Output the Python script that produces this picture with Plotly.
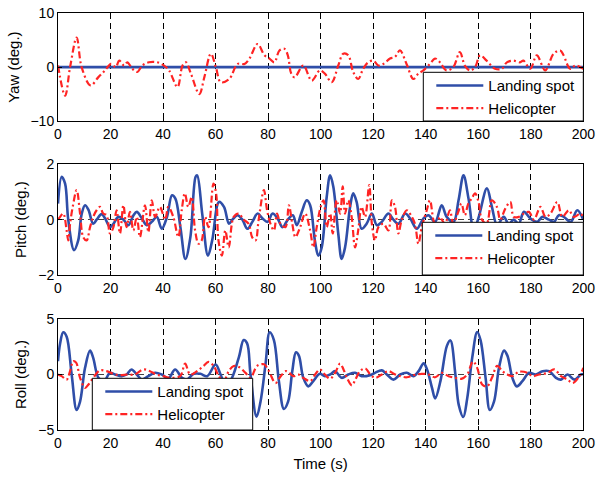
import plotly.graph_objects as go

# ---------------- data (time in s, angles in deg.) ----------------
time_ticks = list(range(0, 201, 20))

# Yaw
yaw_ship_t = [0, 200]
yaw_ship = [0, 0]
yaw_heli_t = [0, 2.7, 4.6, 7.1, 9.0, 12.4, 15.3, 17.9, 20.2, 22.0, 23.3, 25.2, 26.4, 28.3,
              30.2, 32.1, 34.6, 37.8, 40.4, 42.3, 45.5, 47.4, 48.7, 50.6, 53.8, 55.7, 58.2,
              60.1, 62.0, 65.2, 68.4, 71.0, 72.9, 76.0, 78.6, 80.5, 82.4, 84.3, 86.2, 87.5,
              88.8, 90.1, 93.4, 96.6, 99.7, 101.6, 104.2, 106.7, 108.6, 110.5, 112.4, 114.3,
              116.2, 118.1, 120.1, 122.0, 123.9, 126.4, 128.3, 130.2, 132.7, 135.3, 137.2,
              139.1, 141.6, 143.5, 145.4, 147.9, 150.5, 153.0, 154.9, 156.9, 158.8, 160.7,
              163.2, 166.4, 169.0, 170.9, 173.4, 175.9, 177.2, 179.8, 182.3, 185.5, 188.7,
              191.2, 192.5, 195.0, 197.0, 200.0]
yaw_heli = [0.3, -5.3, 0.0, 5.5, 0.0, -3.4, -1.9, -0.6, 0.6, 0.0, 1.2, 0.3, 0.9, -0.3,
            -0.9, 0.3, 0.9, 0.9, 0.3, -0.6, -3.7, 0.3, 0.9, -1.2, -5.0, -1.9, 2.5,
            0.0, -2.8, -2.2, 0.6, 0.6, 1.6, 4.3, 2.2, 1.6, 0.9, 3.1, 3.4, 2.2,
            -1.2, -1.9, 0.3, -2.5, -0.6, -1.2, -2.8, 0.3, 2.5, 2.2, -0.9, -2.2,
            -0.3, 0.9, 1.2, 0.3, 0.6, 1.6, 1.9, 3.1, 0.6, -2.2, -1.2,
            -0.6, 0.6, 1.6, 0.9, -0.6, 0.0, 2.8, 0.3, -0.6, 0.0, 2.2,
            1.2, -0.3, -0.3, 0.9, 1.2, 0.9, 1.2, -0.3, 2.2, -0.6, 2.5,
            3.1, 2.2, -0.3, 0.3, -0.3]

# Pitch
pitch_ship_t = [0, 1.4, 2.7, 3.9, 6.1, 7.7, 9.0, 10.3, 11.6, 13.4, 14.7, 16.6, 17.9, 19.8,
                21.1, 23.0, 24.9, 26.8, 28.7, 30.0, 31.9, 33.8, 35.7, 37.6, 39.5, 41.5,
                43.4, 44.7, 46.6, 48.5, 50.4, 52.4, 53.0, 54.9, 57.1, 58.7, 61.3, 63.2,
                65.1, 66.4, 68.3, 70.2, 72.1, 74.0, 76.0, 77.9, 79.8, 81.7, 83.6, 85.5,
                87.5, 89.4, 90.9, 92.8, 94.7, 96.0, 97.8, 99.1, 100.4, 102.3, 103.6, 104.8,
                106.7, 108.0, 109.3, 111.2, 112.4, 113.7, 115.6, 117.5, 119.5, 121.4,
                123.3, 125.8, 127.7, 129.6, 132.2, 134.1, 136.6, 139.1, 141.0, 143.6,
                146.1, 148.0, 150.6, 152.5, 154.4, 156.3, 158.3, 160.2, 163.3, 165.2,
                167.2, 169.7, 171.6, 173.5, 175.4, 177.4, 179.9, 182.4, 184.4, 186.9,
                188.8, 190.7, 192.6, 195.2, 197.7, 200.0]
pitch_ship = [0.58, 1.55, 1.3, 0.0, -1.1, -0.75, 0.2, 0.52, 0.35, -0.15, 0.0, 0.2, 0.05, -0.27,
              -0.15, 0.1, 0.0, -0.2, 0.15, 0.28, 0.05, -0.2, -0.08, 0.1, -0.33, 0.1,
              0.88, 0.76, -0.27, -1.42, -0.63, 1.55, 1.6, 0.22, -1.3, -0.75, 0.64, 0.46,
              -0.15, 0.0, 0.16, 0.0, -0.33, -0.08, 0.22, 0.04, -0.08, 0.22, 0.04, -0.27,
              0.0, 0.16, -0.2, 0.28, 0.7, 0.52, -0.75, -1.3, -1.0, 0.82, 1.6, 1.2,
              -0.5, -1.42, -1.0, 0.46, 0.95, 0.64, -0.33, -0.15, 0.22, -0.2,
              -0.08, 0.22, 0.0, -0.15, 0.22, 0.04, -0.33, 0.04, 0.16, -0.08,
              0.52, 0.1, -0.08, 0.7, 1.6, 0.76, -0.39, 0.1, 1.13, 0.46,
              -0.2, 0.1, -0.15, 0.0, -0.15, 0.28, 0.04, -0.08, 0.1, 0.0,
              -0.08, 0.16, 0.1, -0.08, 0.34, 0.0]
pitch_heli_t = [0, 0.8, 2.0, 3.3, 3.9, 4.6, 5.6, 7.1, 8.4, 9.6, 10.9, 12.2, 13.4, 14.7, 16.0,
                17.2, 18.5, 19.8, 21.1, 22.3, 23.6, 24.9, 26.1, 27.4, 28.7, 30.0, 31.2,
                33.1, 34.4, 35.7, 37.0, 38.8, 40.8, 42.0, 43.9, 45.8, 47.1, 48.3, 49.6,
                50.9, 52.2, 53.5, 54.7, 56.0, 57.3, 59.2, 60.2, 61.1, 62.4, 63.7, 65.0,
                66.9, 68.8, 70.7, 72.6, 73.9, 75.2, 76.4, 78.4, 79.6, 80.9, 82.2, 83.4,
                84.7, 86.6, 87.9, 89.2, 90.4, 92.2, 94.1, 96.0, 97.2, 98.5, 100.0, 101.1,
                102.3, 103.6, 104.6, 106.1, 107.4, 108.4, 109.3, 110.5, 111.8, 113.1,
                114.3, 115.6, 116.9, 118.5, 119.5, 120.7, 122.0, 123.9, 125.8, 127.1,
                128.3, 129.6, 130.9, 132.8, 134.7, 135.9, 137.2, 138.5, 140.4, 141.6,
                142.9, 144.2, 145.4, 147.3, 149.2, 150.5, 152.4, 153.6, 154.9, 156.2,
                157.5, 158.8, 160.1, 161.4, 163.2, 165.2, 167.1, 168.4, 170.3, 172.2,
                173.5, 175.4, 177.4, 179.3, 181.2, 183.7, 185.6, 187.5, 190.1, 192.0,
                194.5, 196.4, 199.0, 200.0]
pitch_heli = [0.0, 0.1, 0.22, -0.4, -0.75, -0.15, 0.46, 1.07, 0.22, -0.63, -0.75, -0.27, 0.1, 0.34, 0.46,
              0.22, 0.16, -0.5, -0.27, 0.34, -0.5, 0.52, -0.27, 0.28, -0.39, 0.1, -0.63,
              0.52, -0.45, 0.7, 0.1, 0.46, 0.0, 0.46, 0.1, -0.63, 0.34, 0.95, 0.46,
              0.82, -0.39, -0.87, -0.75, 0.1, -0.27, 1.3, 0.95, -0.75, -1.3, -0.39, -1.0,
              0.1, 0.22, 0.0, -0.15, -0.63, -0.75, 0.0, 1.07, 0.34, -0.15, -0.39, 0.22,
              -0.15, -0.27, 0.52, -0.15, -0.63, -0.27, 0.22, -0.39, -1.0, -0.27, 0.46, 0.7,
              -0.27, 0.22, -0.5, 0.7, 0.22, 1.2, 0.22, 0.7, 0.1, -1.0,
              -0.39, 0.46, 0.1, 1.25, -0.15, -0.75, -0.27, -0.15, -0.39, 0.7,
              0.46, -0.5, 0.0, 0.34, 0.1, -0.15, -0.87, -0.27, 0.34, 0.7,
              0.0, -0.39, 0.1, -0.15, 0.34, -0.15, 0.28, 0.58, 0.16, 0.58,
              0.76, 0.95, 0.64, 0.0, -0.15, 0.7, 0.46, 0.0, 0.4, 0.64,
              0.1, 0.1, 0.22, 0.28, 0.0, 0.46, 0.1, 0.22, 0.64, 0.1,
              0.34, 0.1, 0.22, 0.0]

# Roll
roll_ship_t = [0, 0.8, 2.0, 3.3, 5.2, 7.1, 8.4, 10.3, 12.2, 13.4, 15.4, 17.5, 19.8, 21.7,
               24.2, 26.1, 28.0, 30.0, 31.9, 34.4, 36.9, 39.5, 42.0, 44.6, 47.2, 49.1,
               51.7, 54.2, 56.8, 60.0, 61.9, 63.5, 65.5, 68.8, 70.7, 72.0, 73.3, 75.6,
               77.1, 79.0, 80.6, 82.2, 84.1, 86.0, 87.6, 89.2, 90.6, 91.7, 93.4, 95.3,
               97.2, 99.7, 101.6, 103.6, 105.5, 108.0, 110.5, 113.1, 115.6, 118.8, 120.7,
               123.3, 125.2, 127.7, 130.3, 132.8, 135.4, 137.3, 139.2, 140.5, 142.4,
               143.6, 145.6, 148.1, 149.4, 151.3, 152.6, 154.3, 155.8, 157.7, 159.6,
               160.9, 162.8, 164.4, 166.0, 167.9, 169.8, 171.1, 173.0, 174.7, 176.8,
               179.4, 181.9, 184.5, 187.0, 189.6, 191.5, 194.0, 196.6, 199.1, 200.0]
roll_ship = [1.2, 2.8, 3.8, 3.4, 0.0, -3.2, -2.45, 0.6, 2.15, 1.5, -0.3, -0.6, 0.15, 0.0,
             -0.15, 0.0, 0.45, 0.0, -0.45, -0.15, 0.15, 0.0, -0.35, 0.45, -0.3, -0.45,
             0.06, 0.06, -0.15, 0.9, 0.0, -0.8, -0.6, 1.5, 3.1, 2.8, 0.0, -3.8,
             -2.45, 0.9, 3.8, 3.1, -0.6, -3.1, -2.45, 0.3, 2.0, 1.7, -0.3, -1.07,
             -0.6, 0.06, -0.15, 0.0, 0.3, -0.3, 0.0, 0.15, -0.15, -0.06, 0.15,
             0.37, 0.0, -0.46, 0.0, 0.15, -0.15, 0.3, 1.0, 0.46, -1.2,
             -2.15, -0.6, 2.6, 3.07, 0.0, -2.76, -3.83, -2.15, 1.5, 3.83,
             3.07, -0.3, -3.2, -2.45, 0.6, 2.15, 1.7, -0.3, -1.07, -0.6,
             0.15, 0.0, 0.3, 0.3, -0.3, -0.46, 0.0, -0.46, 0.0, 0.05]
roll_heli_t = [0, 1.4, 3.3, 4.6, 5.8, 6.9, 8.4, 10.3, 11.6, 13.4, 16.0, 18.5, 21.1, 23.6,
               26.5, 29.3, 32.5, 35.0, 37.5, 40.1, 42.7, 46.5, 48.4, 50.3, 52.9, 55.4,
               57.3, 59.3, 61.2, 63.1, 65.0, 66.9, 68.9, 71.4, 73.3, 75.8, 78.4, 80.3,
               82.8, 84.8, 86.7, 88.0, 89.6, 91.5, 93.4, 96.0, 97.9, 99.7, 101.6, 103.6,
               105.5, 107.4, 108.7, 110.0, 111.9, 113.2, 115.0, 117.0, 118.9, 120.8,
               123.3, 125.8, 128.4, 130.3, 132.8, 135.4, 138.5, 141.1, 143.6, 146.2,
               148.7, 151.3, 153.8, 155.8, 158.0, 159.6, 161.5, 163.4, 165.3, 167.2,
               169.2, 171.1, 173.0, 175.5, 178.8, 180.6, 183.2, 186.4, 188.9, 191.5,
               194.0, 196.0, 198.5, 200.0]
roll_heli = [0.0, -0.15, -0.46, 0.3, 1.2, 1.07, -0.3, -1.2, -0.9, -0.3, 0.37, 0.3, 0.06, -0.06,
             0.0, 0.0, 0.46, 0.3, 0.0, -0.15, -0.3, -0.15, 0.98, 0.0, 0.3, 0.77,
             1.13, 0.77, -0.15, -0.6, 0.3, 0.77, 0.67, 0.15, -0.3, 0.77, 0.92, 0.3,
             -0.77, -0.15, 0.3, 0.15, -0.15, 0.0, -0.3, -0.6, 0.0, 0.46, 0.0, -0.37,
             0.15, 0.98, 0.46, -0.3, -0.98, -0.46, 0.3, 0.55, 0.0, -0.3,
             0.0, 0.3, 0.0, -0.15, -0.25, -0.06, 0.06, 0.0, -0.25, 0.15,
             -0.15, -0.3, -0.37, 0.0, 1.17, 0.6, -0.9, -1.07, -0.25, 0.77,
             0.3, 0.0, -0.15, 0.25, 0.15, -0.15, 0.0, 0.15, 0.46, -0.15,
             -0.46, -0.77, -0.15, 0.6]

panels = [
    ("Yaw (deg.)", [-10, 10], [-10, 0, 10], yaw_ship_t, yaw_ship, yaw_heli_t, yaw_heli),
    ("Pitch (deg.)", [-2, 2], [-2, 0, 2], pitch_ship_t, pitch_ship, pitch_heli_t, pitch_heli),
    ("Roll (deg.)", [-5, 5], [-5, 0, 5], roll_ship_t, roll_ship, roll_heli_t, roll_heli),
]

# ---------------- layout geometry (pixels) ----------------
W, H = 596, 477
X_LEFT, X_RIGHT = 58, 583.3
ROWS_PX = [(13.3, 121), (164.3, 275), (319, 430)]       # (top, bottom) of each axes box
LEGEND_BOX_PX = [(423.3, 583.3, 72.3, 121),             # (x0, x1, top, bottom)
                 (422.3, 583.3, 222.3, 275),
                 (92.3, 252.7, 378.3, 430)]

BLUE = "#2f4ea8"
RED = "#ff2424"
FONT = "Liberation Sans, Arial, sans-serif"


def px_x(x):
    return x / W


def px_y(y):
    return 1 - y / H


fig = go.Figure()
legend_names = ["legend", "legend2", "legend3"]

for i, (title, yr, yt, st, sv, ht, hv) in enumerate(panels):
    suffix = "" if i == 0 else str(i + 1)
    xa, ya = "x" + suffix, "y" + suffix
    leg = legend_names[i]
    fig.add_trace(go.Scatter(
        x=st, y=sv, xaxis=xa, yaxis=ya, mode="lines", name="Landing spot",
        line=dict(color=BLUE, width=2.6, shape="spline", smoothing=1.0),
        legend=leg, legendgroup=f"ship{i}"))
    fig.add_trace(go.Scatter(
        x=ht, y=hv, xaxis=xa, yaxis=ya, mode="lines", name="Helicopter",
        line=dict(color=RED, width=2.2, dash="7px,3px,2px,3px", shape="spline", smoothing=1.0),
        legend=leg, legendgroup=f"heli{i}"))

    top, bot = ROWS_PX[i]
    axis_common = dict(
        showline=True, linecolor="black", linewidth=1, mirror="ticks",
        ticks="inside", ticklen=4, tickcolor="black", automargin=False,
        zeroline=False, tickfont=dict(family=FONT, size=14, color="black"),
    )
    fig.layout["xaxis" + suffix] = dict(
        axis_common, domain=[px_x(X_LEFT), px_x(X_RIGHT)], range=[0, 200],
        tickvals=time_ticks, anchor=ya,
        showgrid=True, gridcolor="black", gridwidth=1, griddash="6px,4px",
        title=dict(text="Time (s)" if i == 2 else "", font=dict(family=FONT, size=15, color="black"),
                   standoff=8),
    )
    fig.layout["yaxis" + suffix] = dict(
        axis_common, domain=[px_y(bot), px_y(top)], range=yr, tickvals=yt, anchor=xa,
        showgrid=True, gridcolor="#444444", gridwidth=1, griddash="6px,4px",
        title=dict(text=title, font=dict(family=FONT, size=15, color="black"), standoff=7),
    )

    # legend frame
    bx0, bx1, btop, bbot = LEGEND_BOX_PX[i]
    fig.add_shape(type="rect", xref="paper", yref="paper",
                  x0=px_x(bx0), x1=px_x(bx1), y0=px_y(bbot), y1=px_y(btop),
                  line=dict(color="black", width=1), fillcolor="white", layer="above")
    fig.layout[leg] = dict(
        x=px_x(bx0 + 8), y=px_y(btop - 3), xanchor="left", yanchor="top",
        bgcolor="rgba(0,0,0,0)", borderwidth=0, traceorder="grouped", tracegroupgap=0,
        font=dict(family=FONT, size=15, color="black"), itemwidth=47,
    )

fig.update_layout(
    width=W, height=H, margin=dict(l=0, r=0, t=0, b=0, autoexpand=False),
    paper_bgcolor="white", plot_bgcolor="white", showlegend=True,
)

fig.write_html("out.html")
